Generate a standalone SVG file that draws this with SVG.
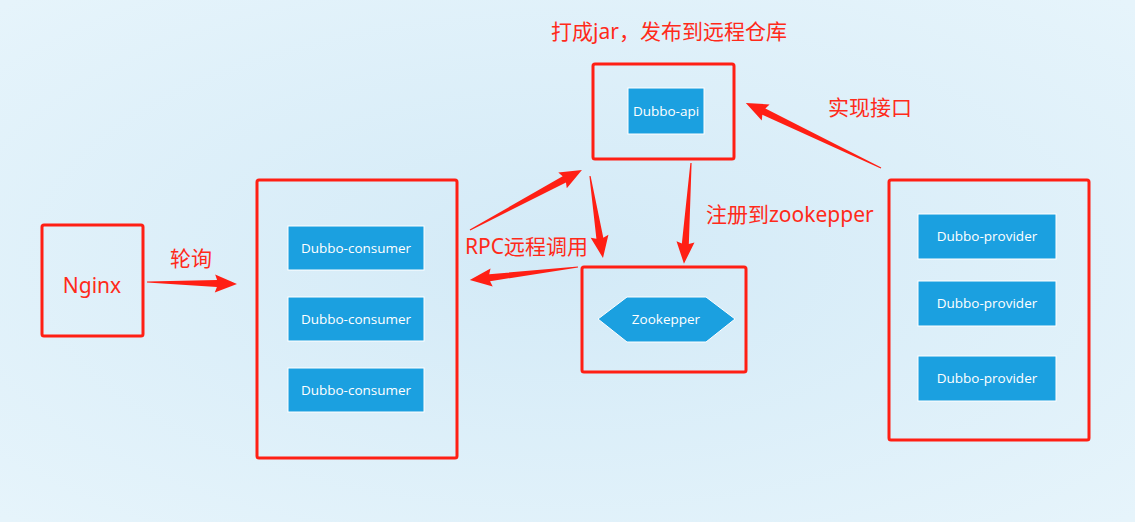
<svg xmlns="http://www.w3.org/2000/svg" width="1135" height="522" viewBox="0 0 1135 522">
<defs>
<radialGradient id="bg" cx="50%" cy="50%" r="70%">
<stop offset="0" stop-color="#d3eaf7"/>
<stop offset="1" stop-color="#e6f4fb"/>
</radialGradient>
<style>
.box{fill:none;stroke:#ff1f14;stroke-width:3}
.node{fill:#1ba0e0;stroke:#ffffff;stroke-width:1}
.nt{font-family:"Open Sans","Noto Sans",sans-serif;font-size:13.5px;fill:#ffffff;text-anchor:middle}
.lbl{font-family:"Noto Sans","Noto Sans CJK SC",sans-serif;font-size:21px;fill:#ff2a1a}
.arr{fill:#ff1f14}
</style>
</defs>
<rect width="1135" height="522" fill="url(#bg)"/>
<g id="nginx">
<rect class="box" x="42" y="225" width="101" height="111" rx="2"/>
<text class="lbl" x="92" y="293" text-anchor="middle" font-size="22">Nginx</text>
</g>
<g id="consumers">
<rect class="box" x="257" y="180" width="200" height="278" rx="2"/>
<rect class="node" x="288" y="226" width="136" height="44"/>
<text class="nt" x="356" y="252.5">Dubbo-consumer</text>
<rect class="node" x="288" y="297" width="136" height="44"/>
<text class="nt" x="356" y="323.5">Dubbo-consumer</text>
<rect class="node" x="288" y="368" width="136" height="44"/>
<text class="nt" x="356" y="394.5">Dubbo-consumer</text>
</g>
<g id="api">
<rect class="box" x="593" y="64" width="141" height="95" rx="2"/>
<rect class="node" x="628" y="88" width="76" height="46"/>
<text class="nt" x="666" y="115.5">Dubbo-api</text>
</g>
<g id="zookeeper">
<rect class="box" x="582" y="267" width="164" height="105" rx="2"/>
<polygon class="node" points="598,319 627,297 706,297 735,319 706,342 627,342"/>
<text class="nt" x="666" y="323.5">Zookepper</text>
</g>
<g id="providers">
<rect class="box" x="889" y="180" width="200" height="260" rx="2"/>
<rect class="node" x="918" y="214" width="138" height="45"/>
<text class="nt" x="987" y="241">Dubbo-provider</text>
<rect class="node" x="918" y="281" width="138" height="45"/>
<text class="nt" x="987" y="308">Dubbo-provider</text>
<rect class="node" x="918" y="356" width="138" height="45"/>
<text class="nt" x="987" y="383">Dubbo-provider</text>
</g>
<g id="connectors">
<path class="arr" transform="translate(147,282) rotate(1.3)" d="M0,-0.6 L70,-3.5 L68,-9 L90,0 L68,9 L70,3.5 L0,0.6 Z"/>
<path class="arr" transform="translate(470,230) rotate(-28.2)" d="M0,-0.6 L107,-3.5 L105,-9 L127,0 L105,9 L107,3.5 L0,0.6 Z"/>
<path class="arr" transform="translate(590,176) rotate(81)" d="M0,-0.6 L63,-3.5 L61,-9 L83,0 L61,9 L63,3.5 L0,0.6 Z"/>
<path class="arr" transform="translate(578,267) rotate(173.1)" d="M0,-0.6 L89,-3.5 L87,-9 L109,0 L87,9 L89,3.5 L0,0.6 Z"/>
<path class="arr" transform="translate(691,163) rotate(94)" d="M0,-0.6 L81,-3.5 L79,-9 L101,0 L79,9 L81,3.5 L0,0.6 Z"/>
<path class="arr" transform="translate(881,168) rotate(-154.3)" d="M0,-0.6 L130,-3.5 L128,-9 L150,0 L128,9 L130,3.5 L0,0.6 Z"/>
</g>
<g id="labels">
<text class="lbl" x="669" y="39" text-anchor="middle">打成jar，发布到远程仓库</text>
<text class="lbl" x="828" y="115">实现接口</text>
<text class="lbl" x="706" y="222">注册到zookepper</text>
<text class="lbl" x="465" y="254">RPC远程调用</text>
<text class="lbl" x="170" y="266">轮询</text>
</g>
</svg>
